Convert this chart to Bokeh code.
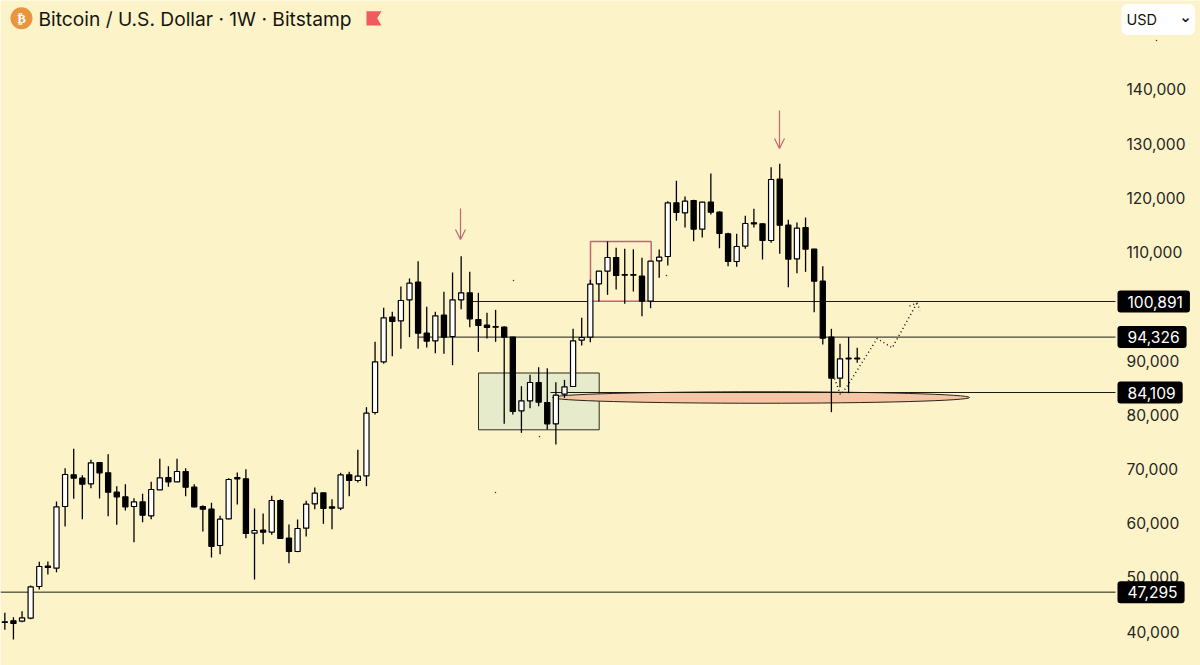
from bokeh.plotting import figure
from bokeh.embed import file_html
from bokeh.resources import INLINE
from bokeh.models import (Range1d, FixedTicker, NumeralTickFormatter, Label, Arrow, OpenHead,
                          ColumnDataSource)

title_text = "Bitcoin / U.S. Dollar · 1W · Bitstamp"
currency = "USD"
price_ticks = [40000, 50000, 60000, 70000, 80000, 90000, 110000, 120000, 130000, 140000]
levels = [100891, 94326, 84109, 47295]
level_labels = ["100,891", "94,326", "84,109", "47,295"]

opens = [41819, 42004, 41942, 42495, 48335, 52085, 51716, 63088, 68927, 68313,
         67268, 71202, 69296, 65731, 64870, 63088, 63948, 61367, 66161, 68436,
         67637, 69542, 66653, 63088, 62596, 55896, 60813, 68436, 68190, 58170,
         58723, 58355, 64194, 57248, 54789, 59092, 63579, 65608, 63026, 62780,
         68927, 67882, 68743, 80420, 89764, 98001, 97325, 101197, 104455, 95050,
         93637, 98370, 94436, 101197, 102488, 97571, 96526, 96280, 96157, 94313,
         80729, 82573, 85954, 82265, 78331, 83802, 85216, 93759, 94313, 104148,
         106484, 109004, 105869, 105869, 105562, 100951, 108389, 109188, 119084, 117240,
         119515, 114228, 119207, 117363, 113368, 108266, 111093, 115396, 115212, 112138,
         123449, 114966, 108757, 114536, 110540, 104639, 94312, 86752, 90440, 90440]
highs = [43479, 42680, 43786, 48519, 52884, 52945, 64010, 70157, 73722, 68866,
         71694, 71263, 72739, 66837, 67206, 64624, 65424, 67637, 71878, 70526,
         71878, 70157, 67206, 63334, 63764, 61367, 68313, 69358, 69972, 62719,
         61797, 65055, 64440, 59768, 60690, 64133, 66592, 65608, 64440, 69296,
         69481, 73538, 81404, 93452, 99722, 98984, 103656, 105131, 108328, 99906,
         98984, 102673, 106238, 109250, 106361, 102488, 98800, 99353, 96341, 94313,
         85277, 87367, 88781, 88597, 86015, 86445, 95850, 97878, 104885, 106484,
         111954, 110787, 110602, 110541, 108942, 108328, 110479, 119392, 123141, 120252,
         119638, 119269, 124494, 117486, 113552, 113368, 116687, 117978, 115335, 125662,
         126276, 115949, 115458, 116380, 110602, 107406, 95849, 93083, 94312, 92345]
lows = [40344, 38561, 41758, 42311, 47782, 50548, 50978, 59400, 64502, 60752,
        66469, 64563, 61305, 59707, 62350, 56510, 60199, 60752, 66161, 66714,
        67637, 64993, 62965, 58477, 53683, 54298, 60752, 63457, 57248, 49626,
        56142, 57863, 57187, 52638, 54666, 57555, 62596, 59891, 58908, 62412,
        64993, 67514, 66837, 80052, 89395, 90809, 92161, 94313, 92161, 92407,
        91362, 91239, 89149, 99476, 96157, 91608, 94067, 93452, 78331, 80052,
        76672, 81220, 81589, 77286, 74520, 83126, 85216, 92776, 93391, 100890,
        102119, 103103, 100460, 102734, 98185, 99660, 105254, 107528, 115765, 114536,
        112015, 112691, 116933, 110724, 107405, 107282, 110601, 114536, 108634, 111708,
        109680, 103533, 106114, 106360, 98923, 92960, 80482, 85092, 83985, 89579]
closes = [41696, 41512, 42557, 48273, 52023, 51839, 63026, 68989, 68313, 67206,
          71140, 69296, 65731, 64870, 63026, 63948, 61490, 66223, 68374, 67637,
          69542, 66653, 63026, 62596, 55711, 60752, 68067, 68190, 58109, 58662,
          58355, 64194, 57187, 54789, 59031, 63518, 65547, 62719, 62780, 68927,
          67882, 68682, 80298, 89764, 97878, 97202, 101074, 104271, 95050, 93575,
          98247, 94313, 101197, 102488, 97694, 96464, 96095, 96157, 94313, 80605,
          82573, 85954, 82327, 78331, 83618, 85154, 93637, 94251, 104086, 106484,
          109004, 105685, 105746, 105746, 100951, 108328, 109065, 119084, 117302, 119392,
          114228, 119207, 117363, 113429, 108266, 111032, 115273, 115212, 112138, 123387,
          114966, 108696, 114413, 110540, 104639, 94128, 86752, 90317, 90317, 90317]

BG = "#FDF3C9"
RED = "#BF6670"


def X(px):
    return (px - 4.33) / 8.61


def Y(py):
    return 100891 - (py - 301) * 184.4


p = figure(width=1200, height=665, output_backend="svg", toolbar_location=None,
           x_range=Range1d(X(0), X(1200)), y_range=Range1d(Y(665), Y(0)),
           x_axis_location=None, y_axis_location="right",
           background_fill_color=BG, border_fill_color=BG, min_border=0)
p.outline_line_color = None
p.grid.visible = False

ax = p.yaxis[0]
ax.fixed_location = X(1115)
ax.ticker = FixedTicker(ticks=price_ticks)
ax.formatter = NumeralTickFormatter(format="0,0")
ax.axis_line_color = None
ax.major_tick_line_color = None
ax.minor_tick_line_color = None
ax.major_label_standoff = 5
ax.major_label_text_font = "Inter"
ax.major_label_text_font_size = "15.6px"
ax.major_label_text_color = "#26261f"

# zones
p.quad(left=[X(478)], right=[X(598.7)], top=[Y(372.5)], bottom=[Y(429.3)],
       fill_color="#E6EBCB", line_color="#2c2c1c", line_width=1)
p.ellipse(x=[X(760.5)], y=[Y(397)], width=[417 / 8.61], height=[11.5 * 184.4],
          fill_color="#F5C6A5", line_color="#2c2318", line_width=1)

# horizontal levels
starts = [469, 418, 550, 0]
for lv, st in zip(levels, starts):
    p.segment(x0=[X(st)], y0=[lv], x1=[X(1115)], y1=[lv], line_color="#1c1c10", line_width=1)

# pink box
p.quad(left=[X(590)], right=[X(650.7)], top=[Y(241)], bottom=[Y(300.8)],
       fill_color=None, line_color=RED, line_width=1.5)

# arrows
for ax_x, y0, y1 in [(460, 208, 239), (779, 110, 148)]:
    p.add_layout(Arrow(end=OpenHead(size=10, line_color=RED, line_width=1.2),
                       x_start=X(ax_x), y_start=Y(y0), x_end=X(ax_x), y_end=Y(y1),
                       line_color=RED, line_width=1.2))

# dotted path
path_x = [834, 840, 846, 876.7, 891.7, 916.5]
path_y = [378, 394.3, 386.7, 338, 347.3, 302.5]
p.line([X(v) for v in path_x], [Y(v) for v in path_y], line_color="#1c1c10", line_width=1.5,
       line_dash=[1, 3])
p.line([X(v) for v in (909, 916.5, 919.5)], [Y(v) for v in (305.5, 302.5, 310)],
       line_color="#1c1c10", line_width=1.5, line_dash=[1, 3])

# stray dots
p.scatter([X(v) for v in (513, 666, 495, 539, 1156)], [Y(v) for v in (280, 275, 492, 436, 40)],
          size=1.5, color="#333333", line_color=None)

# candles
idx = list(range(len(opens)))
src = ColumnDataSource(dict(
    x=idx, high=highs, low=lows,
    top=[max(o, c) for o, c in zip(opens, closes)],
    bottom=[min(o, c) for o, c in zip(opens, closes)],
    fill=["#FFFFFF" if c > o else "#000000" for o, c in zip(opens, closes)],
))
p.segment(x0="x", y0="low", x1="x", y1="high", source=src, line_color="#000000", line_width=1.3)
p.vbar(x="x", top="top", bottom="bottom", width=0.6, source=src,
       fill_color="fill", line_color="#000000", line_width=1.2)

# header
p.scatter([X(21)], [Y(17.7)], size=22, color="#E8953E", line_color=None)
p.add_layout(Label(x=X(21), y=Y(18), text="₿", text_font="DejaVu Sans", text_font_style="bold",
                   text_font_size="13px", text_color="#FFFFFF", text_align="center",
                   text_baseline="middle"))
p.add_layout(Label(x=X(38), y=Y(18.5), text=title_text, text_font="Inter",
                   text_font_size="19.2px", text_color="#15150f", text_baseline="middle"))
p.patch([X(v) for v in (366, 381, 376.7, 381, 366)], [Y(v) for v in (10.7, 10.7, 17.7, 25, 25)],
        fill_color="#EF5B5F", line_color=None)

# currency selector
p.add_layout(Label(x=X(1121), y=Y(19), text=currency, text_font="Inter", text_font_size="14.5px",
                   text_color="#15150f", text_baseline="middle", background_fill_color="#FFFFFF",
                   border_radius=6, padding=(5, 38, 7, 7)))
p.add_layout(Label(x=X(1185), y=Y(16), text="⌄", text_font="DejaVu Sans", text_font_style="bold",
                   text_font_size="15px", text_color="#15150f", text_align="center",
                   text_baseline="middle"))

# level tags
for lv, txt in zip(levels, level_labels):
    p.add_layout(Label(x=X(1117), y=lv, text=txt, text_font="Inter", text_font_size="15.6px",
                       text_color="#FFFFFF", text_baseline="middle", background_fill_color="#000000",
                       border_radius=3, padding=(10, 7, 5, 5)))

open("out.html", "w").write(file_html(p, INLINE))
